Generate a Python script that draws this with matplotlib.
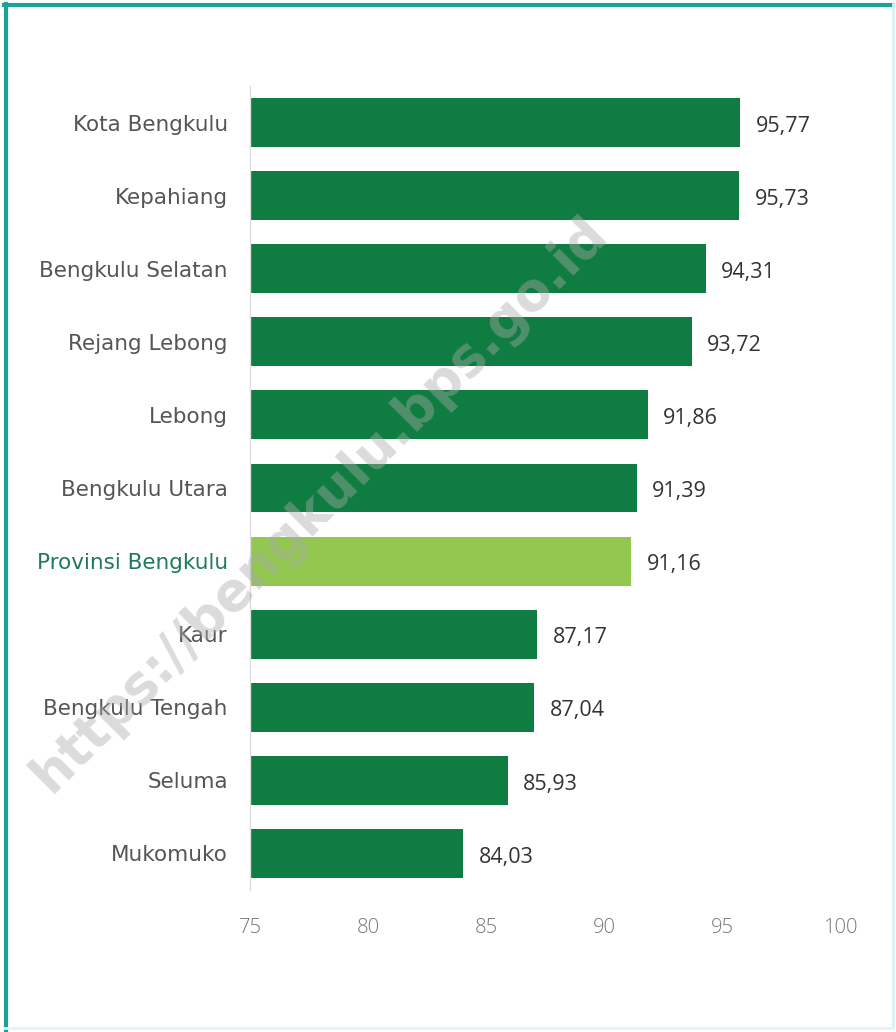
import matplotlib
matplotlib.use("Agg")
import matplotlib.pyplot as plt
from matplotlib.lines import Line2D

categories = ["Kota Bengkulu", "Kepahiang", "Bengkulu Selatan", "Rejang Lebong",
              "Lebong", "Bengkulu Utara", "Provinsi Bengkulu", "Kaur",
              "Bengkulu Tengah", "Seluma", "Mukomuko"]
values = [95.77, 95.73, 94.31, 93.72, 91.86, 91.39, 91.16, 87.17, 87.04, 85.93, 84.03]
value_labels = ["95,77", "95,73", "94,31", "93,72", "91,86", "91,39", "91,16",
                "87,17", "87,04", "85,93", "84,03"]
highlight = "Provinsi Bengkulu"
xticks = [75, 80, 85, 90, 95, 100]

DARK = "#0f7d41"
LIGHT = "#92c850"

fig = plt.figure(figsize=(8.96, 10.32), dpi=100)
fig.patch.set_facecolor("white")
ax = fig.add_axes([250/896, 1-890/1032, 590/896, (890-86)/1032])

ypos = list(range(len(categories)))
colors = [LIGHT if c == highlight else DARK for c in categories]
ax.barh(ypos, [v - 75 for v in values], left=75, height=0.67, color=colors)

ax.set_xlim(75, 100)
ax.set_ylim(10.5, -0.5)
ax.set_xticks(xticks)
ax.set_xticklabels([str(t) for t in xticks], fontsize=14.5, color="#777777",
                   fontfamily="Open Sans", fontweight="light")
ax.set_yticks(ypos)
ax.set_yticklabels(categories, fontsize=15.5, fontfamily="DejaVu Sans", color="#555555")
for lbl in ax.get_yticklabels():
    if lbl.get_text() == highlight:
        lbl.set_color("#1f7a5c")
ax.tick_params(axis="x", length=0, pad=20)
ax.tick_params(axis="y", length=0, pad=16)
for s in ["top", "right", "bottom"]:
    ax.spines[s].set_visible(False)
ax.spines["left"].set_color("#dddddd")
ax.spines["left"].set_linewidth(1.0)

for y, v, t in zip(ypos, values, value_labels):
    ax.text(v + 0.65, y + 0.05, t, va="center", ha="left", fontsize=15.5,
            fontfamily="Open Sans", color="#333333")

# watermark
fig.text(0.357, 0.511, "https://bengkulu.bps.go.id", rotation=45, fontsize=38,
         fontweight="bold", color="#aaaaaa", alpha=0.42, ha="center", va="center",
         fontfamily="DejaVu Sans")

# frame border
fig.add_artist(Line2D([6/896, 6/896], [0, 1-4/1032], color="#1aa394", lw=3,
                      transform=fig.transFigure))
fig.add_artist(Line2D([4/896, 893/896], [1-5/1032, 1-5/1032], color="#1aa394", lw=3,
                      transform=fig.transFigure))
fig.add_artist(Line2D([893/896, 893/896], [4/1032, 1-4/1032], color="#d8f2f2", lw=2,
                      transform=fig.transFigure))
fig.add_artist(Line2D([4/896, 893/896], [4/1032, 4/1032], color="#e0f5f5", lw=2,
                      transform=fig.transFigure))

fig.savefig("out.png", dpi=100)
